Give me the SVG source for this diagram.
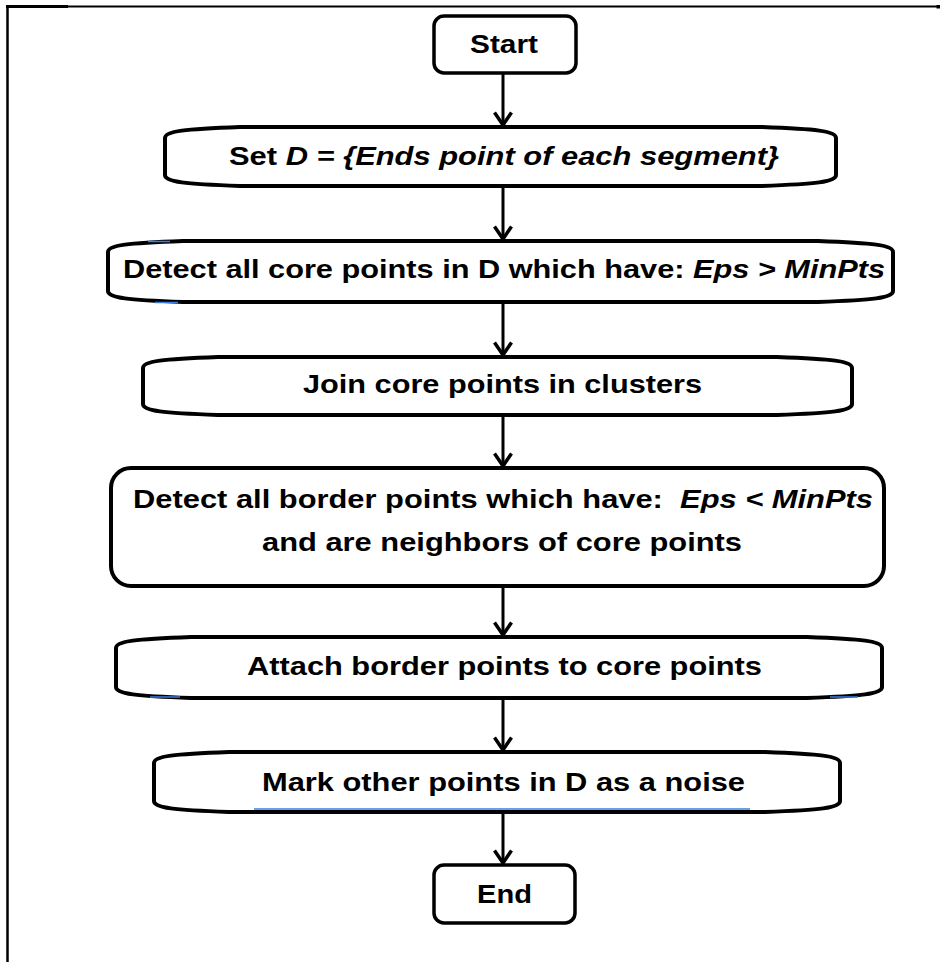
<svg xmlns="http://www.w3.org/2000/svg" width="940" height="962" viewBox="0 0 940 962">
  <defs>
    <style>
      .bg { fill: #ffffff; }
      .frame { stroke: #000000; fill: none; }
      .box { fill: #ffffff; stroke: #000000; stroke-width: 4; stroke-linejoin: round; }
      .term { fill: #ffffff; stroke: #000000; stroke-width: 3.5; }
      .lbl { font-family: "Liberation Sans", Arial, sans-serif; font-weight: bold; font-size: 26px; fill: #000000; }
      .it { font-style: italic; }
      .edge { stroke: #000000; stroke-width: 3; fill: none; }
      .tint { stroke: #3a7ee6; stroke-width: 1.5; fill: none; }
    </style>
    <!-- open V arrowhead, drawn along +x so orient="auto" turns it with the line -->
    <marker id="arrow" viewBox="0 0 16 20" refX="14" refY="10" markerWidth="16" markerHeight="20" markerUnits="userSpaceOnUse" orient="auto">
      <path d="M1.5,1.5 L14,10 L1.5,18.5" fill="none" stroke="#000000" stroke-width="3.5" stroke-linejoin="miter"/>
    </marker>
  </defs>

  <rect class="bg" x="0" y="0" width="940" height="962"/>

  <!-- page frame -->
  <g id="frame">
    <line class="frame" x1="7" y1="6.5" x2="940" y2="6.5" stroke-width="2"/>
    <line class="frame" x1="6" y1="6.5" x2="68" y2="6.5" stroke-width="3"/>
    <line class="frame" x1="7.5" y1="5" x2="7.5" y2="962" stroke-width="2.5"/>
    <rect x="936.5" y="5" width="3.5" height="3.5" fill="#000000"/>
  </g>

  <!-- connectors -->
  <g id="connectors">
    <line class="edge" x1="503" y1="73" x2="503" y2="125" marker-end="url(#arrow)"/>
    <line class="edge" x1="503" y1="186" x2="503" y2="239" marker-end="url(#arrow)"/>
    <line class="edge" x1="503" y1="302" x2="503" y2="355" marker-end="url(#arrow)"/>
    <line class="edge" x1="503" y1="415" x2="503" y2="466" marker-end="url(#arrow)"/>
    <line class="edge" x1="503" y1="586" x2="503" y2="635" marker-end="url(#arrow)"/>
    <line class="edge" x1="503" y1="698" x2="503" y2="750" marker-end="url(#arrow)"/>
    <line class="edge" x1="503" y1="812" x2="503" y2="863" marker-end="url(#arrow)"/>
  </g>

  <g id="start">
    <rect class="term" x="434" y="16" width="142" height="57" rx="10"/>
    <text class="lbl" x="504" y="53" text-anchor="middle" textLength="68" lengthAdjust="spacingAndGlyphs">Start</text>
  </g>

  <g id="set-d">
    <path class="box" d="M165,138 C165,131 185,129 240,127 L761,127 C816,129 836,131 836,138 L836,175 C836,182 816,184 761,186 L240,186 C185,184 165,182 165,175 Z"/>
    <text class="lbl" x="504" y="165" text-anchor="middle" textLength="550" lengthAdjust="spacingAndGlyphs">Set <tspan class="it">D = {Ends point of each segment}</tspan></text>
  </g>

  <g id="core-points">
    <path class="box" d="M108,252 C108,245 128,243 183,241 L818,241 C873,243 893,245 893,252 L893,291 C893,298 873,300 818,302 L183,302 C128,300 108,298 108,291 Z"/>
    <line class="tint" x1="148" y1="241.5" x2="170" y2="241.5"/>
    <line class="tint" x1="155" y1="302.5" x2="178" y2="302.5"/>
    <text class="lbl" x="123" y="278" textLength="762" lengthAdjust="spacingAndGlyphs">Detect all core points in D which have: <tspan class="it">Eps &gt; MinPts</tspan></text>
  </g>

  <g id="join">
    <path class="box" d="M143,368 C143,361 163,359 218,357 L777,357 C832,359 852,361 852,368 L852,404 C852,411 832,413 777,415 L218,415 C163,413 143,411 143,404 Z"/>
    <text class="lbl" x="303" y="393" textLength="399" lengthAdjust="spacingAndGlyphs">Join core points in clusters</text>
  </g>

  <g id="border-points">
    <rect class="box" x="111" y="468" width="773" height="118" rx="20"/>
    <text class="lbl" x="133" y="508" textLength="740" lengthAdjust="spacingAndGlyphs">Detect all border points which have:&#160; <tspan class="it">Eps &lt; MinPts</tspan></text>
    <text class="lbl" x="262" y="551" textLength="480" lengthAdjust="spacingAndGlyphs">and are neighbors of core points</text>
  </g>

  <g id="attach">
    <path class="box" d="M116,648 C116,641 136,639 191,637 L807,637 C862,639 882,641 882,648 L882,687 C882,694 862,696 807,698 L191,698 C136,696 116,694 116,687 Z"/>
    <line class="tint" x1="150" y1="697" x2="180" y2="697"/>
    <line class="tint" x1="830" y1="697" x2="858" y2="697"/>
    <text class="lbl" x="247" y="675" textLength="515" lengthAdjust="spacingAndGlyphs">Attach border points to core points</text>
  </g>

  <g id="noise">
    <path class="box" d="M154,763 C154,756 174,754 229,752 L765,752 C820,754 840,756 840,763 L840,801 C840,808 820,810 765,812 L229,812 C174,810 154,808 154,801 Z"/>
    <line class="tint" x1="254" y1="809" x2="750" y2="809"/>
    <text class="lbl" x="262" y="791" textLength="483" lengthAdjust="spacingAndGlyphs">Mark other points in D as a noise</text>
  </g>

  <g id="end">
    <rect class="term" x="434" y="865" width="141" height="58" rx="10"/>
    <text class="lbl" x="504.5" y="903" text-anchor="middle" textLength="55" lengthAdjust="spacingAndGlyphs">End</text>
  </g>
</svg>
